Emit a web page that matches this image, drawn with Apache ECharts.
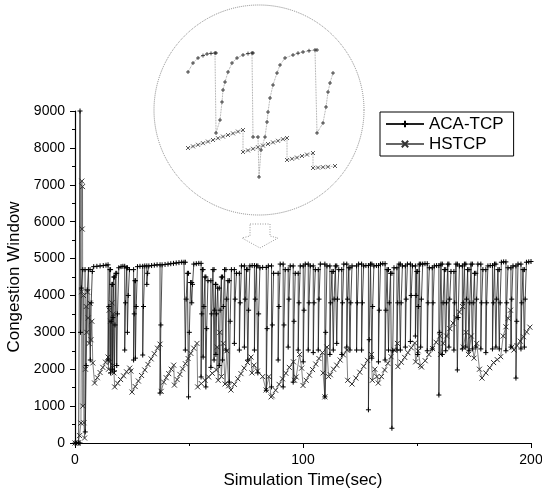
<!DOCTYPE html>
<html>
<head>
<meta charset="utf-8">
<title>Congestion Window</title>
<script src="https://cdn.jsdelivr.net/npm/echarts@6.0.0/dist/echarts.min.js"></script>
<style>
  html, body { margin: 0; padding: 0; background: #fff; }
  #chart { width: 542px; height: 494px; }
</style>
</head>
<body>
<div id="chart"></div>
<script>
// ACA-TCP, [time (sec), cwnd]
const acaPart1 = [
  [0,0],[0.8,0],[1.6,0],[2.2,0],[2.2,9000],[2.4,3000],[2.8,4200],[3.4,4700],[4.4,4700],
  [4.5,300],[4.9,2100],[5.4,4150],[5.9,4700],[6.6,4700],[6.7,2250],[7.1,3800],[7.6,4650],
  [8.2,4780],[9.6,4790],[11.0,4800],[12.4,4810],[13.6,4820],
  [14.5,4830],[14.5,2250],[14.85,3700],[15.3,4700],
  [15.6,4700],[15.6,1900],[15.85,3300],[16.2,4300],
  [16.4,4300],[16.4,2000],[16.65,3400],[17.0,4500],
  [17.3,4500],[17.3,1950],[17.55,3200],[17.9,4600],
  [18.3,4600],[18.3,2100],[18.65,3500],[19.2,4750],[20.2,4780],[21.0,4790],
  [21.8,4790],[21.8,2520],[22.15,3800],[22.7,4750],
  [23.0,4750],[23.0,3000],[23.35,4000],[23.9,4700],
  [25.7,4700],[25.7,2250],[26.0,3500],[26.3,4400],
  [26.5,4400],[26.5,2300],[26.85,3700],[27.4,4780],[28.5,4790],
  [29.7,4790],[29.7,2385],[30.05,3700],[30.6,4800],
  [31.5,4800],[31.5,4300],[31.85,4600],[32.4,4800],[33.6,4810],[34.8,4820],[36.0,4830],
  [37.3,4830],[37.3,1355],[37.65,3200],[38.2,4830],[39.5,4840],[40.8,4850],[42.0,4860],
  [43.2,4870],[44.4,4880],[45.6,4890],[46.8,4900],[47.8,4900],
  [48.4,4900],[48.4,2520],[48.75,3900],[49.3,4600],
  [49.8,4600],[49.8,1250],[50.15,3000],[50.7,4350]
];
const acaPart2 = [
  [51.2,4350],[51.2,3800],[51.55,4300],[52.1,4850],[53.2,4860],[54.3,4870],
  [55.3,4870],[55.3,1790],[55.6,3500],[55.9,4700],
  [56.2,4700],[56.2,2330],[56.55,3700],[57.0,4500],
  [57.4,4500],[57.4,1520],[57.75,3100],[58.3,4400],
  [59.6,4400],[59.6,2050],[59.95,3500],[60.5,4700],
  [61.0,4700],[61.0,2250],[61.25,3600],[61.6,4300],
  [61.8,4300],[61.8,2400],[62.1,3500],[62.6,4200],
  [63.3,4200],[63.3,2100],[63.65,3600],[64.2,4500],
  [64.7,4500],[64.7,2250],[65.05,3700],[65.6,4700],
  [66.2,4700],[66.2,2520],[66.55,3900],[67.1,4400],
  [67.7,4400],[67.7,1650],[68.05,3300],[68.6,4700],
  [69.9,4700],[69.9,2700],[70.25,3900],[70.8,4600],
  [72.1,4600],[72.1,2520],[72.45,3800],[73.0,4800],
  [74.3,4800],[74.3,2600],[74.65,3900],[75.2,4700],
  [75.8,4700],[75.8,2250],[76.15,3600],[76.7,4800],[77.7,4810],
  [78.7,4810],[78.7,2520],[79.05,3900],[79.6,4800],
  [80.2,4800],[80.2,1900],[80.55,3500],[81.1,4750],[82.3,4760],
  [83.9,4760],[83.9,1430],[84.25,3100],[84.8,4800],
  [86.2,4800],[86.2,1520],[86.55,3200],[87.1,4600],
  [89.1,4600],[89.1,2250],[89.45,3700],[90.0,4850],
  [91.3,4850],[91.3,1520],[91.65,3200],[92.2,4700],
  [93.5,4700],[93.5,2600],[93.85,3900],[94.4,4800],
  [95.7,4800],[95.7,1650],[96.05,3300],[96.6,4600],
  [97.9,4600],[97.9,2520],[98.25,3800],[98.8,4800]
];
const acaPart3 = [
  [100.1,4800],[100.1,2200],[100.45,3600],[101.0,4850],
  [102.3,4850],[102.3,2520],[102.65,3800],[103.2,4800],
  [104.5,4800],[104.5,2450],[104.85,3800],[105.4,4700],
  [106.7,4700],[106.7,2520],[107.05,3900],[107.6,4850],
  [109.6,4850],[109.6,1250],[109.95,3000],[110.5,4800],
  [111.8,4800],[111.8,2400],[112.15,3800],[112.7,4650],
  [113.3,4650],[113.3,2520],[113.65,3900],[114.2,4800],
  [114.8,4800],[114.8,2700],[115.15,3900],[115.7,4700],
  [117.0,4700],[117.0,2400],[117.35,3800],[117.9,4850],
  [119.2,4850],[119.2,2600],[119.55,3900],[120.1,4750],
  [120.6,4750],[120.6,2520],[120.95,3800],[121.5,4800],
  [123.5,4800],[123.5,2520],[123.85,3800],[124.4,4850],
  [125.7,4850],[125.7,2520],[126.05,3800],[126.6,4800],[127.6,4810],
  [128.7,4810],[128.7,900],[129.05,2800],[129.6,4850],
  [130.2,4850],[130.2,2300],[130.55,3700],[131.1,4800],[132.2,4810],
  [133.1,4810],[133.1,2200],[133.45,3600],[134.0,4850],[135.0,4860],
  [136.0,4860],[136.0,2250],[136.35,3600],[136.9,4700],
  [137.5,4700],[137.5,2520],[137.85,3800],[138.4,4600],
  [139.0,4600],[139.0,400],[139.35,2500],[139.9,4750],
  [141.2,4750],[141.2,2520],[141.55,3800],[142.1,4850],
  [142.7,4850],[142.7,2520],[143.05,3800],[143.6,4800],
  [144.9,4800],[144.9,2600],[145.25,3900],[145.8,4850],
  [147.1,4850],[147.1,2750],[147.45,4000],[148.0,4800],
  [149.3,4800],[149.3,2900],[149.6,4000],[149.9,4650]
];
const acaPart4 = [
  [150.3,4650],[150.3,2400],[150.6,3700],[151.0,4850],
  [151.6,4850],[151.6,2600],[151.95,3900],[152.5,4850],[153.5,4860],
  [154.5,4860],[154.5,2500],[154.85,3800],[155.4,4750],
  [156.7,4750],[156.7,2550],[157.05,3800],[157.6,4800],[158.6,4810],
  [159.6,4810],[159.6,1300],[159.95,3000],[160.5,4850],
  [161.1,4850],[161.1,2400],[161.45,3800],[162.0,4700],
  [162.6,4700],[162.6,2500],[162.95,3800],[163.5,4850],
  [164.0,4850],[164.0,2600],[164.35,3900],[164.9,4650],
  [166.2,4650],[166.2,2520],[166.55,3800],[167.1,4850],
  [167.7,4850],[167.7,1980],[168.05,3400],[168.6,4800],
  [169.9,4800],[169.9,2550],[170.25,3800],[170.8,4850],
  [171.4,4850],[171.4,2600],[171.75,3900],[172.2,4700],
  [172.8,4700],[172.8,2500],[173.15,3800],[173.7,4850],
  [174.3,4850],[174.3,2550],[174.65,3800],[175.2,4600],
  [175.8,4600],[175.8,2600],[176.15,3900],[176.7,4850],
  [178.0,4850],[178.0,2550],[178.35,3800],[178.9,4700],
  [180.2,4700],[180.2,2450],[180.55,3800],[181.1,4800],[182.1,4810],
  [183.1,4810],[183.1,2550],[183.45,3800],[184.0,4850],
  [184.6,4850],[184.6,2600],[184.95,3900],[185.5,4700],
  [186.1,4700],[186.1,2550],[186.45,3800],[187.0,4900],[188.0,4910],
  [189.0,4910],[189.0,2500],[189.35,3800],[189.9,4750],
  [191.2,4750],[191.2,2600],[191.55,3900],[192.1,4800],
  [193.4,4800],[193.4,1760],[193.75,3300],[194.3,4850],
  [195.6,4850],[195.6,2550],[195.95,3800],[196.5,4700],
  [197.1,4700],[197.1,2600],[197.45,3900],[198.0,4900],[199.0,4910],[200,4920]
];

// HSTCP, [time (sec), cwnd]
const hsPart1 = [
  [0,0],[1.2,0],[2.0,200],[2.6,540],[2.9,4100],[3.0,7100],[3.15,5800],[3.3,6950],[3.45,1000],
  [3.7,4000],[3.9,550],[4.2,135],[4.6,2000],[4.9,3700],[5.2,3000],[5.5,4090],[5.8,3390],
  [6.2,2700],[6.6,3790],[7.0,2800],[7.4,3300],[7.8,2170],
  [8.6,1626],[9.8,1770],[11.0,1910],[12.2,2050],[13.4,2190],[14.5,2330],
  [14.7,2000],[15.0,3600],[15.3,2200],[15.6,3300],[15.9,1950],[16.2,3800],[16.5,2100],[16.8,3500],[17.1,1900],
  [17.4,1520],[18.7,1620],[20.0,1720],[21.3,1820],[22.6,1930],[24.0,2030],[24.5,1950],
  [25.0,1380],[26.4,1530],[27.8,1680],[29.2,1830],[30.6,1980],[32.0,2130],[33.4,2280],[34.8,2420],[36.2,2570],[37.3,2680],
  [37.8,1400],[38.9,1650],[40.0,1770],[41.1,1880],[42.2,2000],[43.3,2110],
  [43.6,1570],[44.8,1720],[46.0,1860],[47.2,2010],[48.4,2150],[49.6,2290]
];
const hsPart2 = [
  [50.8,2430],[52.1,2570],[53.5,2700],
  [53.8,1520],[55.4,1610],[57.0,1700],[58.6,1790],[60.2,1890],[62.0,1980],
  [62.4,2600],[62.8,1700],[63.5,3000],[64.2,1800],[65.0,2700],[65.8,1600],[66.6,2500],[67.4,1550],
  [68.4,1436],[69.9,1590],[71.4,1740],[72.8,1880],[74.2,2030],[75.7,2180],[77.2,2330],
  [77.6,1900],[78.5,2110],[80.0,1950],[82.3,1800],[83.8,1436],[85.0,1800],[86.0,1250],
  [86.5,1280],[88.0,1430],[89.5,1590],[91.0,1740],[92.5,1890],[94.0,2050],[95.8,2200],
  [96.3,1700],[97.0,1790],[98.5,2400],[99.4,2030]
];
const hsPart3 = [
  [100.0,1560],[101.4,1700],[102.8,1840],[104.2,1990],[105.6,2140],[107.0,2290],[108.5,2450],
  [108.8,1900],[109.6,1250],[110.5,2600],[111.2,1800],[112.0,1850],[113.4,2000],[114.8,2110],[116.3,2250],[117.7,2390],[119.2,2520],
  [119.6,1700],[121.5,1600],[123.2,1760],[124.9,1920],[126.6,2080],[128.3,2240],[130.0,2400],
  [130.4,1700],[131.5,2000],[132.4,1800],[133.0,1626],[134.4,1800],[135.8,1980],[137.2,2160],[138.6,2340],[140.0,2520],[141.4,2700],
  [141.6,2070],[143.1,2190],[144.6,2320],[146.0,2450],[147.5,2580],[149.0,2710]
];
const hsPart4 = [
  [149.4,2200],[150.5,2500],[151.5,2100],[152.0,2060],[153.6,2230],[155.2,2400],[156.8,2560],[158.4,2730],[160.0,2900],
  [160.3,2400],[161.5,2700],[163.0,2900],[164.4,3100],[165.8,3250],[167.2,3400],[168.6,3550],[170.0,3700],
  [170.3,2600],[171.5,3000],[172.6,2400],[173.8,2900],[175.0,2300],[176.2,2700],[177.4,2000],
  [178.5,1760],[180.2,1900],[181.9,2040],[183.6,2180],[185.2,2260],[186.7,2340],[187.8,2900],[189.0,3150],[190.0,3380],[191.0,3600],
  [191.6,2600],[192.5,2520],[193.9,2640],[195.3,2760],[196.7,2880],[198.1,3010],[199.5,3140]
];

// zoomed-in window shown inside the circle
const insetAca = [
  [60.8,4200],[61.3,4425],[61.8,4550],[62.3,4610],[62.7,4650],[63.1,4665],[63.5,4675],
  [63.6,4675],[63.6,2675],[64.0,3000],[64.2,3450],[64.3,3750],[64.5,3950],[64.8,4200],
  [65.2,4425],[65.7,4550],[66.3,4625],[66.8,4660],[67.2,4675],
  [67.3,4675],[67.3,2575],[67.8,2575],[67.9,1575],[68.1,2250],[68.5,2575],[68.7,2950],
  [68.8,3200],[69.0,3550],[69.3,3875],[69.7,4175],[70.0,4375],[70.5,4550],[71.3,4625],
  [71.8,4670],[72.3,4700],[72.9,4730],[73.5,4750],
  [73.7,4750],[73.7,2675],[74.3,2925],[74.6,3325],[74.8,3700],[75.0,3925],[75.3,4175]
];
const insetHs = [
  [60.8,2300],[61.3,2340],[61.8,2380],[62.3,2420],[62.8,2460],[63.3,2500],[63.8,2545],
  [64.3,2585],[64.8,2625],[65.3,2665],[65.8,2710],[66.3,2750],
  [66.3,2200],[66.8,2240],[67.3,2280],[67.8,2320],[68.3,2360],[68.8,2400],[69.3,2440],
  [69.8,2480],[70.3,2520],[70.7,2550],
  [70.7,2000],[71.2,2030],[71.7,2060],[72.2,2100],[72.7,2135],[73.3,2175],
  [73.3,1800],[73.8,1810],[74.3,1820],[74.8,1830],[75.5,1850]
];

const seriesNames = ["ACA-TCP", "HSTCP"];
const font = "Liberation Sans, Arial, sans-serif";
const plusSymbol = "path://M0,5L10,5M5,0L5,10";
const crossSymbol = "path://M0,0L10,10M10,0L0,10";

const chart = echarts.init(document.getElementById("chart"), null, { renderer: "canvas" });

const axisCommon = {
  axisLine: { show: true, lineStyle: { color: "#000", width: 1.2 } },
  axisTick: { show: true, inside: false, length: 5, lineStyle: { color: "#000" } },
  minorTick: { show: true, splitNumber: 2, length: 3, lineStyle: { color: "#000" } },
  splitLine: { show: false },
  minorSplitLine: { show: false },
  axisLabel: { color: "#000", fontSize: 14, fontFamily: font, margin: 10, formatter: (v) => String(v) },
  nameTextStyle: { color: "#000", fontSize: 17, fontFamily: font },
};

const option = {
  animation: false,
  backgroundColor: "#fff",
  grid: [
    { left: 75, right: 11, top: 111, bottom: 51, outerBoundsMode: "none" },
    { left: 180, top: 40, width: 160, height: 140, outerBoundsMode: "none" },
  ],
  xAxis: [
    Object.assign({}, axisCommon, {
      type: "value", min: 0, max: 200, interval: 100,
      name: "Simulation Time(sec)", nameLocation: "middle", nameGap: 25,
    }),
    { gridIndex: 1, type: "value", min: 60, max: 76, show: false },
  ],
  yAxis: [
    Object.assign({}, axisCommon, {
      type: "value", min: 0, max: 9000, interval: 1000,
      name: "Congestion Window", nameLocation: "middle", nameGap: 46,
    }),
    { gridIndex: 1, type: "value", min: 1500, max: 5000, show: false },
  ],
  legend: {
    data: seriesNames,
    orient: "vertical",
    left: 380,
    top: 112,
    padding: [3, 10, 3, 5],
    itemGap: 2,
    itemWidth: 38,
    itemHeight: 8,
    borderColor: "#000",
    borderWidth: 1,
    borderRadius: 0,
    backgroundColor: "#fff",
    textStyle: { color: "#000", fontSize: 17, fontFamily: font, lineHeight: 18 },
  },
  graphic: [
    {
      type: "circle",
      shape: { cx: 259, cy: 110, r: 105 },
      style: { fill: "none", stroke: "#888", lineWidth: 1, lineDash: [1, 1] },
      silent: true,
    },
    {
      type: "polygon",
      shape: { points: [[250, 224], [270, 224], [270, 236], [278, 238], [260, 248], [242, 238], [250, 236]] },
      style: { fill: "none", stroke: "#999", lineWidth: 1, lineDash: [1, 1.5] },
      silent: true,
    },
  ],
  series: [
    {
      name: seriesNames[0], type: "line",
      data: acaPart1.concat(acaPart2, acaPart3, acaPart4),
      symbol: plusSymbol, symbolSize: 5, showSymbol: true,
      lineStyle: { color: "#222", width: 0.8 },
      itemStyle: { color: "#000", borderColor: "#000", borderWidth: 1 },
      z: 3,
    },
    {
      name: seriesNames[1], type: "line",
      data: hsPart1.concat(hsPart2, hsPart3, hsPart4),
      symbol: crossSymbol, symbolSize: 5, showSymbol: true,
      lineStyle: { color: "#666", width: 0.8 },
      itemStyle: { color: "#333", borderColor: "#333", borderWidth: 1 },
      z: 2,
    },
    {
      name: seriesNames[0], type: "line", xAxisIndex: 1, yAxisIndex: 1,
      data: insetAca,
      symbol: plusSymbol, symbolSize: 4, showSymbol: true,
      lineStyle: { color: "#888", width: 0.8, type: "dotted" },
      itemStyle: { color: "#222", borderColor: "#222", borderWidth: 0.8 },
      z: 3,
    },
    {
      name: seriesNames[1], type: "line", xAxisIndex: 1, yAxisIndex: 1,
      data: insetHs,
      symbol: crossSymbol, symbolSize: 4, showSymbol: true,
      lineStyle: { color: "#888", width: 0.8, type: "dotted" },
      itemStyle: { color: "#333", borderColor: "#333", borderWidth: 0.8 },
      z: 2,
    },
  ],
};

chart.setOption(option);
</script>
</body>
</html>
